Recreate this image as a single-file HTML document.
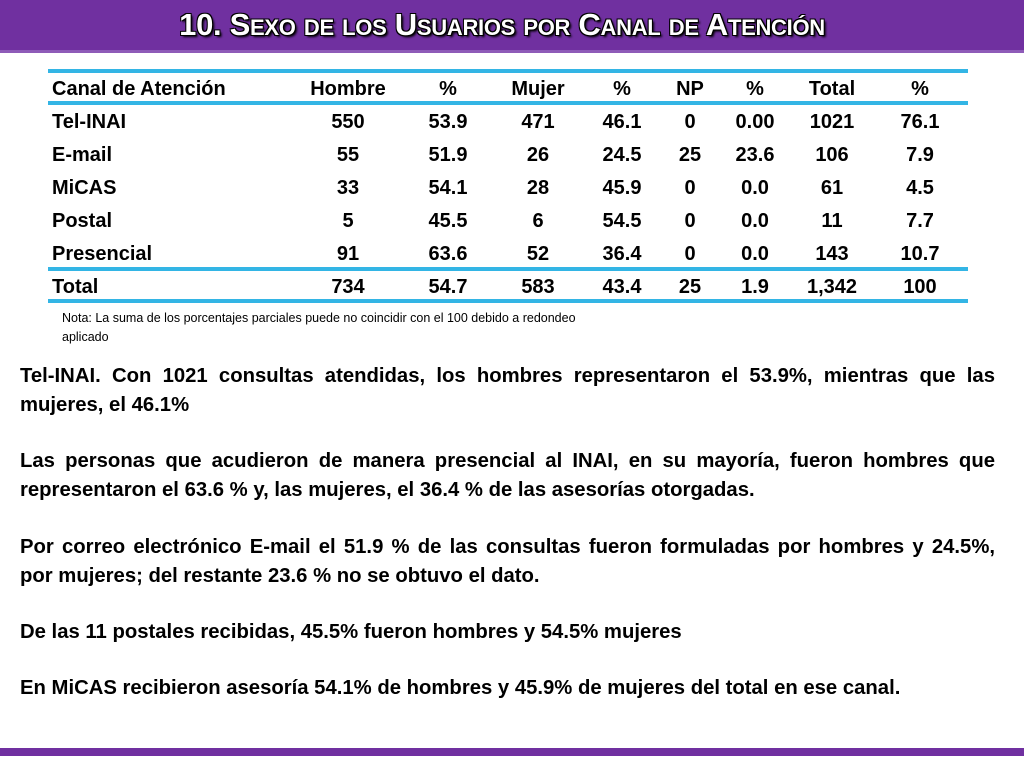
<!DOCTYPE html>
<html><head><meta charset="utf-8"><style>
body{margin:0;width:1024px;height:768px;background:#fff;position:relative;overflow:hidden;font-family:"Liberation Sans",sans-serif}
#hdr{position:absolute;left:0;top:0;width:1024px;height:50px;background:#7030a0;border-bottom:3px solid #8e5bb8}
#title{position:absolute;left:0;width:1004px;top:7px;text-align:center;font-weight:bold;font-size:31px;color:#fff;font-variant:small-caps;letter-spacing:-0.3px;text-shadow:-1px -1px 0 #000,1px -1px 0 #000,-1px 1px 0 #000,1px 1px 0 #000,2px 2px 2px #000}
.ln{position:absolute;left:48px;width:920px;height:4px;background:#33b5e5}
.row{position:absolute;left:0;width:1024px;height:33px;font-weight:bold;font-size:20px;color:#000}
.row span{position:absolute;top:6px;transform:translateX(-50%);white-space:nowrap}
.row span.f{transform:none;left:52px}
#note{position:absolute;left:62px;top:309px;font-size:12.5px;line-height:19px;width:550px}
.p{position:absolute;left:20px;width:975px;font-weight:bold;font-size:20.3px;line-height:29px;text-align:justify;text-align-last:left}
.jl{display:block;text-align:justify;text-align-last:justify}
#foot{position:absolute;left:0;top:748px;width:1024px;height:8px;background:#7030a0}
</style></head><body>
<div id="hdr"></div>
<div id="title">10. Sexo de los Usuarios por Canal de Atención</div>
<div class="ln" style="top:69px"></div>
<div class="ln" style="top:101px"></div>
<div class="ln" style="top:267px"></div>
<div class="ln" style="top:299px"></div>
<div id="tbl"></div>
<div id="note">Nota: La suma de los porcentajes parciales puede no coincidir con el 100 debido a redondeo aplicado</div>
<div class="p" style="top:362px">Tel-INAI. Con 1021 consultas atendidas, los hombres representaron el 53.9%, mientras que las mujeres, el 46.1%</div>
<div class="p" style="top:447px">Las personas que acudieron de manera presencial al INAI, en su mayoría, fueron hombres que representaron el 63.6 % y, las mujeres, el 36.4 % de las asesorías otorgadas.</div>
<div class="p" style="top:533px"><span class="jl">Por correo electrónico E-mail el 51.9 % de las consultas fueron formuladas por hombres y 24.5%,</span>por mujeres; del restante 23.6 % no se obtuvo el dato.</div>
<div class="p" style="top:618px">De las 11 postales recibidas, 45.5% fueron hombres y 54.5% mujeres</div>
<div class="p" style="top:674px">En MiCAS recibieron asesoría 54.1% de hombres y 45.9% de mujeres del total en ese canal.</div>
<div id="foot"></div>
<script>
const headers=["Canal de Atención","Hombre","%","Mujer","%","NP","%","Total","%"];
const channels=["Tel-INAI","E-mail","MiCAS","Postal","Presencial","Total"];
const hombre=["550","55","33","5","91","734"];
const hombrePct=["53.9","51.9","54.1","45.5","63.6","54.7"];
const mujer=["471","26","28","6","52","583"];
const mujerPct=["46.1","24.5","45.9","54.5","36.4","43.4"];
const np=["0","25","0","0","0","25"];
const npPct=["0.00","23.6","0.0","0.0","0.0","1.9"];
const total=["1021","106","61","11","143","1,342"];
const totalPct=["76.1","7.9","4.5","7.7","10.7","100"];
const colX=[52,348,448,538,622,690,755,832,920];
const tbl=document.getElementById('tbl');
function addRow(cells,top,name){
  const r=document.createElement('div');r.className='row';r.style.top=top+'px';
  
  
  cells.forEach((c,i)=>{const s=document.createElement('span');if(i===0)s.className='f';else s.style.left=colX[i]+'px';s.textContent=c;
    
    
    r.appendChild(s);});
  tbl.appendChild(r);
}
addRow(headers,72,'header-row');
channels.forEach((c,k)=>addRow([c,hombre[k],hombrePct[k],mujer[k],mujerPct[k],np[k],npPct[k],total[k],totalPct[k]],k<5?105+k*33:270,'row-'+c.toLowerCase()));
</script>
</body></html>
